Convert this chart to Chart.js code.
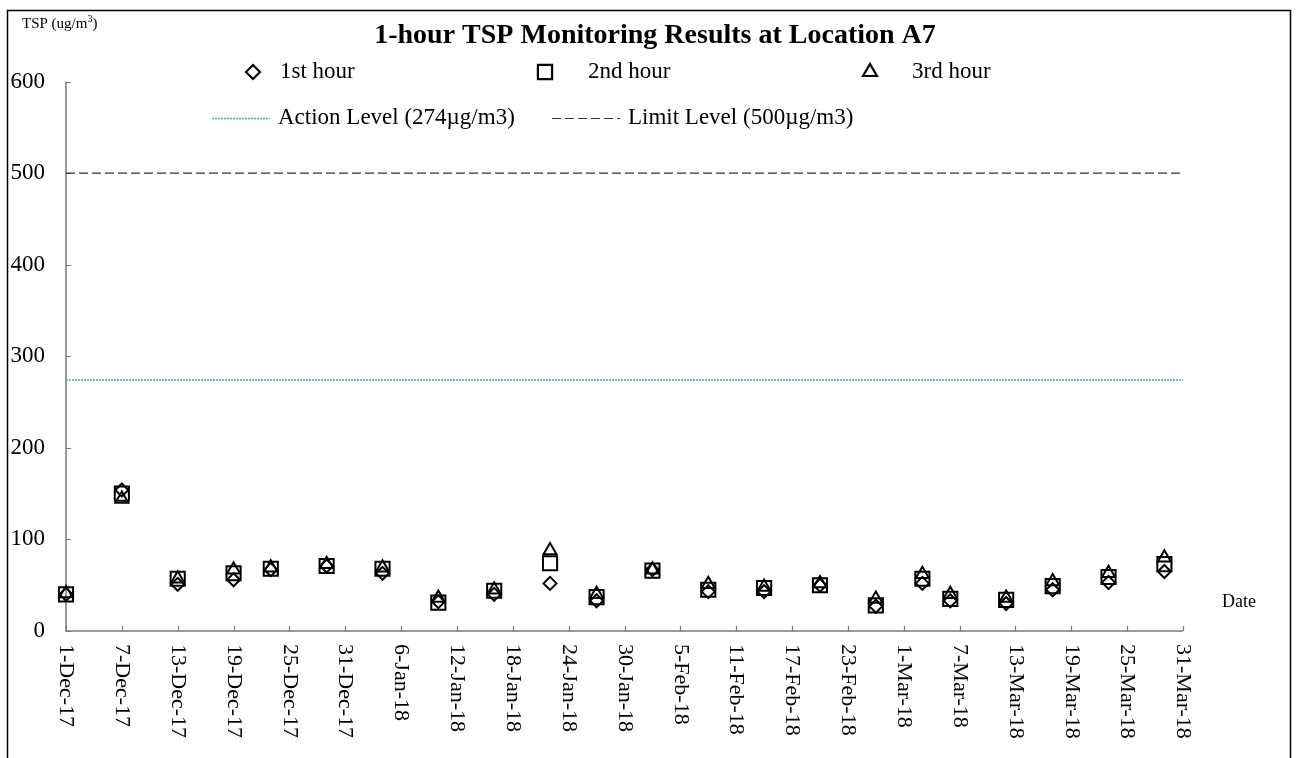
<!DOCTYPE html>
<html><head><meta charset="utf-8">
<script src="https://cdn.jsdelivr.net/npm/chart.js@4.4.0/dist/chart.umd.min.js"></script>
<style>html,body{margin:0;padding:0;background:#fff;} canvas{display:block;}</style>
</head><body>
<canvas id="c" width="1298" height="758"></canvas>
<script>
const chartTitle = '1-hour TSP Monitoring Results at Location A7';
const seriesNames = ['1st hour', '2nd hour', '3rd hour'];
const actionLabel = 'Action Level (274\u00b5g/m3)';
const limitLabel = 'Limit Level (500\u00b5g/m3)';
const sampleDates = ['2017-12-01','2017-12-07','2017-12-13','2017-12-19','2017-12-23','2017-12-29',
  '2018-01-04','2018-01-10','2018-01-16','2018-01-22','2018-01-27','2018-02-02','2018-02-08',
  '2018-02-14','2018-02-20','2018-02-26','2018-03-03','2018-03-06','2018-03-12','2018-03-17',
  '2018-03-23','2018-03-29'];
const hour1 = [40,154,51,56,67,71,63,32,40,52,33,67,43,43,50,27,52,33,30,45,53,65];
const hour2 = [40,150,57,63,68,71,68,31,44,74,37,66,45,47,50,28,57,35,34,49,59,73];
const hour3 = [41,144,57,67,69,73,69,36,45,88,40,67,51,48,52,35,62,40,36,54,63,80];
const actionLevel = 274;
const limitLevel = 500;
const xTickLabels = ['1-Dec-17','7-Dec-17','13-Dec-17','19-Dec-17','25-Dec-17','31-Dec-17',
  '6-Jan-18','12-Jan-18','18-Jan-18','24-Jan-18','30-Jan-18','5-Feb-18','11-Feb-18','17-Feb-18',
  '23-Feb-18','1-Mar-18','7-Mar-18','13-Mar-18','19-Mar-18','25-Mar-18','31-Mar-18'];
const xTickStep = 6;
const yTicks = [0,100,200,300,400,500,600];

const SERIF = '"Liberation Serif", "Times New Roman", serif';
const startDay = Date.UTC(2017, 11, 1);
function dayIndex(s) {
  const p = s.split('-').map(Number);
  return Math.round((Date.UTC(p[0], p[1]-1, p[2]) - startDay) / 86400000);
}
const xMax = (xTickLabels.length - 1) * xTickStep;
const pts = arr => arr.map((v, i) => ({x: dayIndex(sampleDates[i]), y: v}));

const markerStyles = [
  {pointStyle: 'rectRot', radius: 6.5},
  {pointStyle: 'rect', radius: 10},
  {pointStyle: 'triangle', radius: 7.5}
];

function seriesDs(name, arr, k) {
  return {
    type: 'scatter', label: name, data: pts(arr),
    pointStyle: markerStyles[k].pointStyle, pointRadius: markerStyles[k].radius,
    pointBorderColor: '#000', pointBackgroundColor: 'rgba(0,0,0,0)', pointBorderWidth: 2,
    borderColor: '#000', backgroundColor: 'rgba(0,0,0,0)', showLine: false, clip: false
  };
}

const decor = {
  id: 'decor',
  beforeDraw(chart) {
    const ctx = chart.ctx;
    ctx.save();
    ctx.fillStyle = '#fff';
    ctx.fillRect(0, 0, chart.width, chart.height);
    ctx.strokeStyle = '#000';
    ctx.lineWidth = 1.5;
    ctx.strokeRect(7.5, 10.5, 1283, 800);
    ctx.restore();
  },
  beforeDatasetsDraw(chart) {
    const ctx = chart.ctx, xs = chart.scales.x, ys = chart.scales.y;
    const a = chart.chartArea;
    ctx.save();
    ctx.strokeStyle = '#7a7a7a';
    ctx.lineWidth = 1.5;
    ctx.beginPath();
    ctx.moveTo(a.left, a.top); ctx.lineTo(a.left, a.bottom); ctx.lineTo(a.right, a.bottom);
    ctx.stroke();
    ctx.lineWidth = 1.2;
    ctx.beginPath();
    yTicks.forEach(v => { const y = Math.round(ys.getPixelForValue(v)) + 0.5; ctx.moveTo(a.left, y); ctx.lineTo(a.left + 5, y); });
    xTickLabels.forEach((l, i) => { const x = Math.round(xs.getPixelForValue(i * xTickStep)) + 0.5; ctx.moveTo(x, a.bottom); ctx.lineTo(x, a.bottom - 5); });
    ctx.stroke();
    // y labels
    ctx.fillStyle = '#000';
    ctx.font = '23px ' + SERIF;
    ctx.textAlign = 'right'; ctx.textBaseline = 'middle';
    yTicks.forEach(v => ctx.fillText(String(v), 45, ys.getPixelForValue(v)));
    // x labels rotated clockwise
    ctx.font = '22px ' + SERIF;
    ctx.textAlign = 'left';
    xTickLabels.forEach((l, i) => {
      const x = xs.getPixelForValue(i * xTickStep);
      ctx.save(); ctx.translate(x, 644); ctx.rotate(Math.PI / 2); ctx.fillText(l, 0, 0); ctx.restore();
    });
    ctx.restore();
  },
  afterDraw(chart) {
    const ctx = chart.ctx;
    ctx.save();
    ctx.fillStyle = '#000';
    // title
    ctx.font = 'bold 28px ' + SERIF;
    ctx.textAlign = 'center'; ctx.textBaseline = 'middle';
    ctx.fillText(chartTitle, 655, 36);
    // axis title
    ctx.textAlign = 'left';
    ctx.font = '15px ' + SERIF;
    const t1 = 'TSP (ug/m';
    ctx.fillText(t1, 22, 24);
    let w = ctx.measureText(t1).width;
    ctx.font = '10px ' + SERIF;
    ctx.fillText('3', 22 + w, 19);
    let w2 = ctx.measureText('3').width;
    ctx.font = '15px ' + SERIF;
    ctx.fillText(')', 22 + w + w2, 24);
    // Date
    ctx.font = '18px ' + SERIF;
    ctx.fillText('Date', 1222, 602);
    // legend row 1
    ctx.font = '23px ' + SERIF;
    const legX = [[253, 280], [545, 588], [870, 912]];
    const legR = [7, 10, 8];
    seriesNames.forEach((n, k) => {
      ctx.save();
      ctx.fillStyle = 'rgba(0,0,0,0)';
      ctx.strokeStyle = '#000'; ctx.lineWidth = 2.2;
      Chart.helpers.drawPoint(ctx, {pointStyle: markerStyles[k].pointStyle, radius: legR[k], borderWidth: 2.2}, legX[k][0], 72);
      ctx.restore();
      ctx.fillStyle = '#000';
      ctx.fillText(n, legX[k][1], 72);
    });
    // legend row 2
    ctx.lineWidth = 1.5;
    ctx.strokeStyle = '#4aabb8';
    ctx.setLineDash([2, 1]);
    ctx.beginPath(); ctx.moveTo(212, 118.5); ctx.lineTo(270, 118.5); ctx.stroke();
    ctx.lineWidth = 1.2;
    ctx.strokeStyle = '#333';
    ctx.setLineDash([9, 4]);
    ctx.beginPath(); ctx.moveTo(552, 118.5); ctx.lineTo(620, 118.5); ctx.stroke();
    ctx.setLineDash([]);
    ctx.fillText(actionLabel, 278, 118);
    ctx.fillText(limitLabel, 628, 118);
    ctx.restore();
  }
};

new Chart(document.getElementById('c'), {
  data: {
    datasets: [
      seriesDs(seriesNames[0], hour1, 0),
      seriesDs(seriesNames[1], hour2, 1),
      seriesDs(seriesNames[2], hour3, 2),
      {type: 'line', label: actionLabel, data: [{x: 0, y: actionLevel}, {x: xMax, y: actionLevel}],
        borderColor: '#4aabb8', borderWidth: 1.5, borderDash: [2, 1], pointRadius: 0, fill: false, clip: false},
      {type: 'line', label: limitLabel, data: [{x: 0, y: limitLevel}, {x: xMax, y: limitLevel}],
        borderColor: '#333', borderWidth: 1.2, borderDash: [9, 4], pointRadius: 0, fill: false, clip: false}
    ]
  },
  options: {
    responsive: false, animation: false, devicePixelRatio: 1,
    layout: {padding: {left: 66, top: 81.5, right: 115, bottom: 127}},
    plugins: {legend: {display: false}, title: {display: false}, tooltip: {enabled: false}},
    scales: {
      x: {type: 'linear', min: 0, max: xMax, display: false},
      y: {type: 'linear', min: 0, max: 600, display: false}
    }
  },
  plugins: [decor]
});
</script>
</body></html>
